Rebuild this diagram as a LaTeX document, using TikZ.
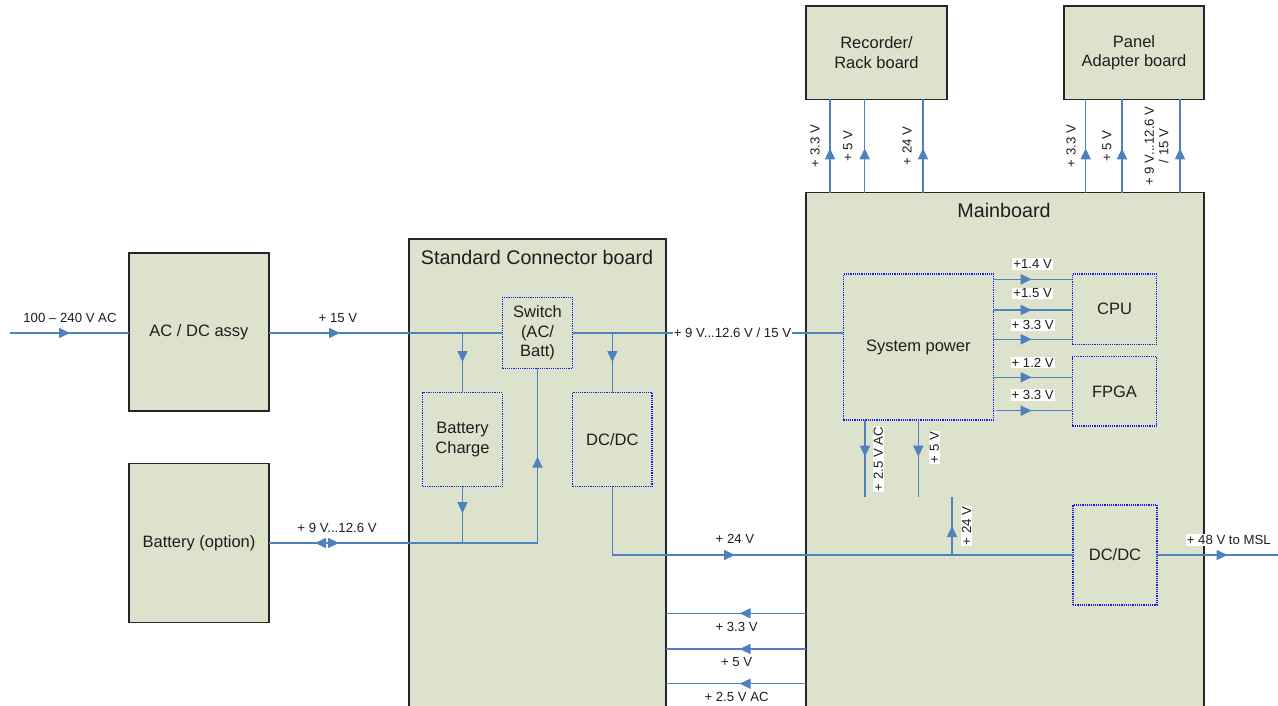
\documentclass[tikz,border=0pt]{standalone}
\usepackage{fontspec}
\setmainfont{Liberation Sans}
\usetikzlibrary{arrows.meta,decorations.markings}
\definecolor{boardfill}{RGB}{221,226,205}
\definecolor{wirec}{RGB}{79,129,189}
\definecolor{dotblue}{RGB}{25,25,235}
\definecolor{txt}{RGB}{30,30,30}
\tikzset{
  board/.style={draw=black!85, line width=1.3pt, fill=boardfill, inner sep=0pt, outer sep=0pt,
    text=txt, font=\fontsize{16.5}{19.5}\selectfont, align=center},
  sub/.style={draw=dotblue, densely dotted, line width=1.2pt, fill=boardfill, inner sep=0pt, outer sep=0pt,
    text=txt, font=\fontsize{16.5}{19.5}\selectfont, align=center},
  ttl/.style={text=txt, font=\fontsize{19.7}{22}\selectfont, inner sep=0pt},
  wire/.style={draw=wirec, line width=1.5pt},
  lbl/.style={text=txt, font=\fontsize{13.2}{14.5}\selectfont, inner sep=1pt, align=center},
  wlbl/.style={lbl, fill=white},
  tipat/.style={postaction={decorate,decoration={markings,
     mark=at position #1 with {\arrow[wirec]{Triangle[length=11pt,width=10pt]}}}}},
}
\begin{document}
\begin{tikzpicture}[x=1pt,y=-1pt]
\useasboundingbox (0,0) rectangle (1278,706);
% boards
\node[board, minimum width=140pt, minimum height=158pt] (acdc) at (199,332) {AC / DC assy};
\node[board, minimum width=140pt, minimum height=159pt] (batt) at (199,543) {Battery (option)};
\node[board, minimum width=257pt, minimum height=473pt] (scb) at (537.5,475.5) {};
\node[ttl] (scbt) at (537,257) {Standard Connector board};
\node[board, minimum width=398pt, minimum height=519.3pt] (mb) at (1005,452.35) {};
\node[ttl] (mbt) at (1004,210) {Mainboard};
\node[board, minimum width=141pt, minimum height=93.3pt] (rec) at (876.5,52.65) {Recorder/\\Rack board};
\node[board, minimum width=140pt, minimum height=93.3pt] (pan) at (1134,52.65) {Panel\\Adapter board};
% sub blocks
\node[sub, minimum width=70.4pt, minimum height=71pt] (sw) at (537.5,332.8) {Switch\\(AC/\\Batt)};
\node[sub, minimum width=79.6pt, minimum height=94pt] (bc) at (462.5,439.7) {Battery\\Charge};
\node[sub, minimum width=79.3pt, minimum height=94pt] (dc1) at (612.35,439.7) {DC/DC};
\node[sub, minimum width=150pt, minimum height=146pt] (sysp) at (918.3,347) {System power};
\node[sub, minimum width=84.4pt, minimum height=70.3pt] (cpu) at (1114.5,309.15) {CPU};
\node[sub, minimum width=84.4pt, minimum height=69.3pt] (fpga) at (1114.5,391.35) {FPGA};
\node[sub, minimum width=84pt, minimum height=100pt] (dc2) at (1115,555) {DC/DC};
% coordinates
\coordinate (in) at (10,333);
\coordinate (j1) at (462.5,333);
\coordinate (j2) at (612.35,333);
\coordinate (j3) at (537.5,543);
\coordinate (j4) at (462.5,543);
\coordinate (j5) at (612.35,555);
\coordinate (j6) at (952,555);
\coordinate (t24) at (952,496.7);
\coordinate (out) at (1278,555);
\coordinate (d1) at (865,496.7);
\coordinate (d2) at (918.3,496.7);
\coordinate (r1) at (830,0);
\coordinate (r2) at (864.7,0);
\coordinate (r3) at (923,0);
\coordinate (p1) at (1085.7,0);
\coordinate (p2) at (1122,0);
\coordinate (p3) at (1180,0);
\coordinate (y1) at (0,279.3);
\coordinate (y2) at (0,310);
\coordinate (y3) at (0,339.3);
\coordinate (y4) at (0,377.3);
\coordinate (y5) at (0,410.7);
\coordinate (x5) at (996,0);
\coordinate (b1) at (0,613.3);
\coordinate (b2) at (0,649);
\coordinate (b3) at (0,683.7);
% input and 15 V
\draw[wire, tipat=60pt] (in) -- (acdc.west |- in);
\node[lbl] (l100) at (70,318) {100 -- 240 V AC};
\draw[wire, tipat=71pt] (acdc.east |- in) -- (sw.west |- in);
\node[lbl] (l15) at (338,318) {+ 15 V};
\draw[wire, tipat=29pt] (j1) -- (bc.north);
\draw[wire, tipat=26.5pt] (bc.south) -- (j4);
% battery path
\draw[wire, postaction={decorate,decoration={markings,
   mark=at position 46pt with {\arrowreversed[wirec]{Triangle[length=11pt,width=10pt]}},
   mark=at position 70pt with {\arrow[wirec]{Triangle[length=11pt,width=10pt]}},
   mark=at position 354.8pt with {\arrow[wirec]{Triangle[length=11pt,width=10pt]}}}}]
   (batt.east) -- (j3) -- (sw.south);
\node[lbl] (l9) at (337,528) {+ 9 V...12.6 V};
% switch output to mainboard
\draw[wire] (sw.east |- in) -- (sysp.west |- in);
\node[lbl, fill=white, inner sep=0.5pt] (l912) at (732.5,333) {+ 9 V...12.6 V / 15 V};
\draw[wire, tipat=29pt] (j2) -- (dc1.north);
% 24 V
\draw[wire, tipat=191pt] (dc1.south) -- (j5) -- (dc2.west);
\node[lbl] (l24) at (735,539) {+ 24 V};
\draw[wire, tipat=29pt] (j6) -- (t24);
\node[wlbl, rotate=90] (l24b) at (966.4,525.8) {+ 24 V};
\draw[wire, tipat=70.5pt] (dc2.east) -- (out);
\node[wlbl] (l48) at (1228.8,540) {+ 48 V to MSL};
% system power outputs
\draw[wire, tipat=38.4pt] (sysp.east |- y1) -- (cpu.west |- y1);
\draw[wire, tipat=38.4pt] (sysp.east |- y2) -- (cpu.west |- y2);
\draw[wire, tipat=38.4pt] (sysp.east |- y3) -- (cpu.west |- y3);
\draw[wire, tipat=38.4pt] (sysp.east |- y4) -- (fpga.west |- y4);
\draw[wire, tipat=35.7pt] (x5 |- y5) -- (fpga.west |- y5);
\node[wlbl] (v1) at (1032.7,264) {+1.4 V};
\node[wlbl] (v2) at (1032.7,293.5) {+1.5 V};
\node[wlbl] (v3) at (1032.7,325) {+ 3.3 V};
\node[wlbl] (v4) at (1032.7,362.7) {+ 1.2 V};
\node[wlbl] (v5) at (1032.7,395) {+ 3.3 V};
\draw[wire, tipat=36.7pt] (sysp.south -| d1) -- (d1);
\draw[wire, tipat=36.7pt] (sysp.south -| d2) -- (d2);
\node[wlbl, rotate=90] (v6) at (878.3,459) {+ 2.5 V AC};
\node[wlbl, rotate=90] (v7) at (934.3,447.5) {+ 5 V};
% top arrows
\draw[wire, tipat=44.4pt] (mb.north -| r1) -- (rec.south -| r1);
\draw[wire, tipat=44.4pt] (mb.north -| r2) -- (rec.south -| r2);
\draw[wire, tipat=44.4pt] (mb.north -| r3) -- (rec.south -| r3);
\draw[wire, tipat=44.4pt] (mb.north -| p1) -- (pan.south -| p1);
\draw[wire, tipat=44.4pt] (mb.north -| p2) -- (pan.south -| p2);
\draw[wire, tipat=44.4pt] (mb.north -| p3) -- (pan.south -| p3);
\node[lbl, rotate=90] (u1) at (815,146) {+ 3.3 V};
\node[lbl, rotate=90] (u2) at (848,146) {+ 5 V};
\node[lbl, rotate=90] (u3) at (907,146) {+ 24 V};
\node[lbl, rotate=90] (u4) at (1071,146) {+ 3.3 V};
\node[lbl, rotate=90] (u5) at (1107,146) {+ 5 V};
\node[lbl, rotate=90] (u6) at (1156.5,146) {+ 9 V...12.6 V\\/ 15 V};
% bottom arrows
\draw[wire, tipat=66.4pt] (mb.west |- b1) -- (scb.east |- b1);
\draw[wire, tipat=66.4pt] (mb.west |- b2) -- (scb.east |- b2);
\draw[wire, tipat=66.4pt] (mb.west |- b3) -- (scb.east |- b3);
\node[lbl] (w1) at (736.6,626.7) {+ 3.3 V};
\node[lbl] (w2) at (736.6,661.7) {+ 5 V};
\node[lbl] (w3) at (736.6,696.7) {+ 2.5 V AC};
\end{tikzpicture}
\end{document}
